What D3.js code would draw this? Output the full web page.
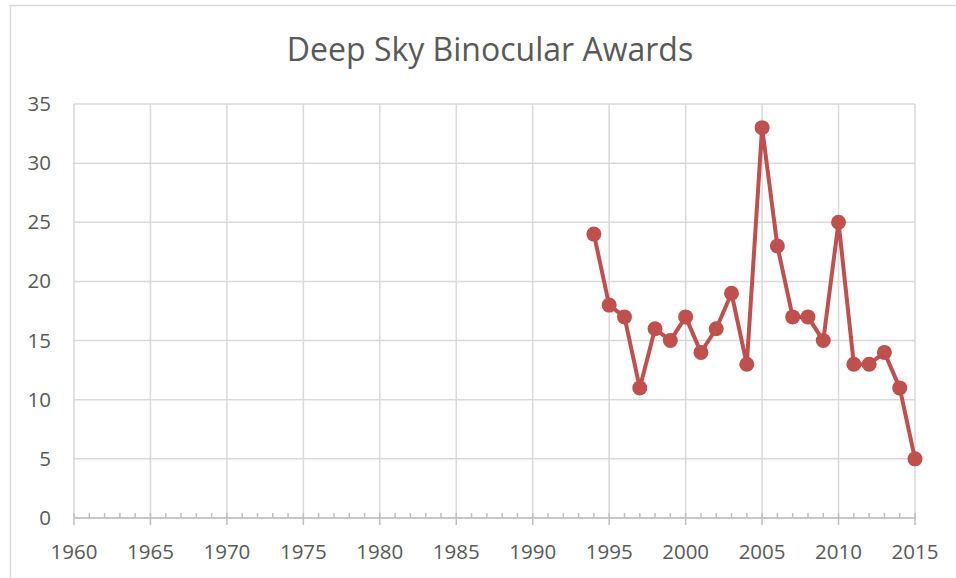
<!DOCTYPE html>
<html><head><meta charset="utf-8">
<script src="https://cdn.jsdelivr.net/npm/d3@7"></script>
<style>body{margin:0;background:#fff;} svg{display:block;font-family:"Open Sans","Noto Sans",sans-serif;}</style>
</head><body>
<script>
const years = [1994,1995,1996,1997,1998,1999,2000,2001,2002,2003,2004,2005,2006,2007,2008,2009,2010,2011,2012,2013,2014,2015];
const awards = [24,18,17,11,16,15,17,14,16,19,13,33,23,17,17,15,25,13,13,14,11,5];
const xTicks = [1960,1965,1970,1975,1980,1985,1990,1995,2000,2005,2010,2015];
const yTicks = [0,5,10,15,20,25,30,35];
const title = "Deep Sky Binocular Awards";

const W = 956, H = 578;
const svg = d3.select("body").append("svg").attr("width", W).attr("height", H);
svg.append("rect").attr("x",10.5).attr("y",5.5).attr("width",W+10).attr("height",H+10)
  .attr("fill","#fff").attr("stroke","#d9d9d9").attr("stroke-width",1.5);

const x = d3.scaleLinear().domain([1960,2015]).range([74,915]);
const y = d3.scaleLinear().domain([0,35]).range([518,104]);

const grid = svg.append("g").attr("stroke","#d9d9d9").attr("stroke-width",1.5);
yTicks.forEach(t => grid.append("line").attr("x1",x(1960)).attr("x2",x(2015)).attr("y1",y(t)).attr("y2",y(t)));
xTicks.forEach(t => grid.append("line").attr("x1",x(t)).attr("x2",x(t)).attr("y1",y(35)).attr("y2",y(0)));

const ax = svg.append("g").attr("stroke","#bfbfbf").attr("stroke-width",1.5);
ax.append("line").attr("x1",x(1960)).attr("x2",x(2015)).attr("y1",y(0)).attr("y2",y(0));
d3.range(1960,2016).forEach(t => {
  if (t % 5 === 0) ax.append("line").attr("x1",x(t)).attr("x2",x(t)).attr("y1",y(0)-5).attr("y2",y(0)+7);
  else ax.append("line").attr("x1",x(t)).attr("x2",x(t)).attr("y1",y(0)-5).attr("y2",y(0));
});

svg.append("g").selectAll("text").data(xTicks).join("text")
  .attr("x",d=>x(d)).attr("y",559).attr("text-anchor","middle")
  .attr("font-size",20.5).attr("fill","#595959").text(d=>d);
svg.append("g").selectAll("text").data(yTicks).join("text")
  .attr("x",51).attr("y",d=>y(d)+7).attr("text-anchor","end")
  .attr("font-size",20.5).attr("fill","#595959").text(d=>d);

svg.append("text").attr("x",490).attr("y",61).attr("text-anchor","middle")
  .attr("font-size",32).attr("fill","#595959").text(title);

const data = years.map((yr,i)=>({yr, v:awards[i]}));
svg.append("path").datum(data).attr("fill","none").attr("stroke","#c0504d").attr("stroke-width",4)
  .attr("stroke-linejoin","round")
  .attr("d", d3.line().x(d=>x(d.yr)).y(d=>y(d.v)));
svg.append("g").selectAll("circle").data(data).join("circle")
  .attr("cx",d=>x(d.yr)).attr("cy",d=>y(d.v)).attr("r",7.5).attr("fill","#c0504d");
</script>
</body></html>
